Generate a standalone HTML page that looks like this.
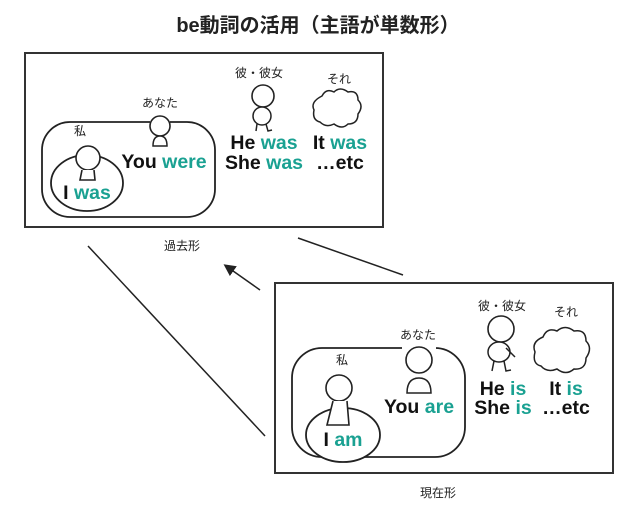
<!DOCTYPE html>
<html><head><meta charset="utf-8"><style>
body{margin:0;background:#fff;width:640px;height:512px;overflow:hidden}
svg text{font-family:"Liberation Sans","Noto Sans CJK JP",sans-serif}
.b{font-weight:bold;font-size:19.5px;fill:#111}
.g{fill:#1aa192}
.j{font-size:12px;fill:#222}
</style></head><body>
<svg width="640" height="512" viewBox="0 0 640 512">
<defs><marker id="ar" markerWidth="8" markerHeight="8" refX="6" refY="4" orient="auto"><path d="M0,0 L8,4 L0,8 z" fill="#222"/></marker></defs>
<text x="318" y="32" text-anchor="middle" font-size="20" font-weight="bold" fill="#222">be動詞の活用（主語が単数形）</text>
<!-- top box -->
<rect x="25" y="53" width="358" height="174" fill="none" stroke="#333" stroke-width="2"/>
<rect x="42" y="122" width="173" height="95" rx="28" fill="none" stroke="#222" stroke-width="1.8"/>
<ellipse cx="87" cy="183" rx="36" ry="28" fill="#fff" stroke="#222" stroke-width="1.8"/>
<text x="80" y="135" class="j" text-anchor="middle">私</text>
<circle cx="88" cy="158" r="12" fill="#fff" stroke="#222" stroke-width="1.6"/>
<path d="M82,170 L80,180 L95,180 L94,170" fill="#fff" stroke="#222" stroke-width="1.6"/>
<text x="87" y="199" class="b" text-anchor="middle">I <tspan class="g">was</tspan></text>
<text x="160" y="107" class="j" text-anchor="middle">あなた</text>
<rect x="150" y="118" width="20" height="26" fill="#fff"/>
<circle cx="160" cy="126" r="10" fill="#fff" stroke="#222" stroke-width="1.6"/>
<path d="M153,146 Q153,136 160,136 Q167,136 167,146 Z" fill="#fff" stroke="#222" stroke-width="1.5"/>
<text x="164" y="168" class="b" text-anchor="middle">You <tspan class="g">were</tspan></text>
<text x="259" y="77" class="j" text-anchor="middle">彼・彼女</text>
<circle cx="263" cy="96" r="11" fill="#fff" stroke="#222" stroke-width="1.6"/>
<ellipse cx="262" cy="116" rx="9" ry="9" fill="#fff" stroke="#222" stroke-width="1.5"/>
<path d="M257,124 L256,131 M266,124 L268,131 L272,130" stroke="#222" stroke-width="1.5" fill="none"/>
<text x="264" y="149" class="b" text-anchor="middle">He <tspan class="g">was</tspan></text>
<text x="264" y="169" class="b" text-anchor="middle">She <tspan class="g">was</tspan></text>
<text x="339" y="83" class="j" text-anchor="middle">それ</text>
<path d="M322,96 q4,-8 12,-4 q6,-6 14,0 q10,-2 10,8 q6,6 0,14 q0,10 -10,10 q-6,6 -14,0 q-8,4 -14,-2 q-8,-2 -6,-12 q-4,-8 8,-14z" fill="#fff" stroke="#222" stroke-width="1.5"/>
<text x="340" y="149" class="b" text-anchor="middle">It <tspan class="g">was</tspan></text>
<text x="340" y="169" class="b" text-anchor="middle">…etc</text>
<!-- connectors -->
<line x1="88" y1="246" x2="265" y2="436" stroke="#222" stroke-width="1.5"/>
<line x1="298" y1="238" x2="403" y2="275" stroke="#222" stroke-width="1.5"/>
<line x1="260" y1="290" x2="226" y2="266" stroke="#222" stroke-width="1.5" marker-end="url(#ar)"/>
<text x="182" y="250" class="j" text-anchor="middle">過去形</text>
<text x="438" y="497" class="j" text-anchor="middle">現在形</text>
<!-- bottom box -->
<rect x="275" y="283" width="338" height="190" fill="none" stroke="#333" stroke-width="2"/>
<rect x="292" y="348" width="173" height="109" rx="30" fill="none" stroke="#222" stroke-width="1.8"/>
<ellipse cx="343" cy="435" rx="37" ry="27" fill="#fff" stroke="#222" stroke-width="1.8"/>
<text x="342" y="364" class="j" text-anchor="middle">私</text>
<circle cx="339" cy="388" r="13" fill="#fff" stroke="#222" stroke-width="1.6"/>
<path d="M333,401 L327,425 L349,425 L347,401" fill="#fff" stroke="#222" stroke-width="1.6"/>
<text x="343" y="446" class="b" text-anchor="middle">I <tspan class="g">am</tspan></text>
<text x="418" y="339" class="j" text-anchor="middle">あなた</text>
<rect x="402" y="344" width="34" height="50" fill="#fff"/>
<circle cx="419" cy="360" r="13" fill="#fff" stroke="#222" stroke-width="1.6"/>
<path d="M407,393 Q407,378 419,378 Q431,378 431,393 Z" fill="#fff" stroke="#222" stroke-width="1.5"/>
<text x="419" y="413" class="b" text-anchor="middle">You <tspan class="g">are</tspan></text>
<text x="502" y="310" class="j" text-anchor="middle">彼・彼女</text>
<circle cx="501" cy="329" r="13" fill="#fff" stroke="#222" stroke-width="1.6"/>
<ellipse cx="499" cy="352" rx="11" ry="10" fill="#fff" stroke="#222" stroke-width="1.5"/>
<path d="M494,361 L492,371 M504,361 L506,371 L511,370 M506,348 L515,357" stroke="#222" stroke-width="1.5" fill="none"/>
<text x="503" y="395" class="b" text-anchor="middle">He <tspan class="g">is</tspan></text>
<text x="503" y="414" class="b" text-anchor="middle">She <tspan class="g">is</tspan></text>
<text x="566" y="316" class="j" text-anchor="middle">それ</text>
<path d="M543,337 q4,-10 14,-6 q8,-7 17,0 q12,-2 12,10 q7,7 0,17 q0,12 -12,11 q-8,7 -17,0 q-10,4 -16,-3 q-9,-2 -6,-14 q-4,-10 8,-15z" fill="#fff" stroke="#222" stroke-width="1.5"/>
<text x="566" y="395" class="b" text-anchor="middle">It <tspan class="g">is</tspan></text>
<text x="566" y="414" class="b" text-anchor="middle">…etc</text>
</svg>
</body></html>
